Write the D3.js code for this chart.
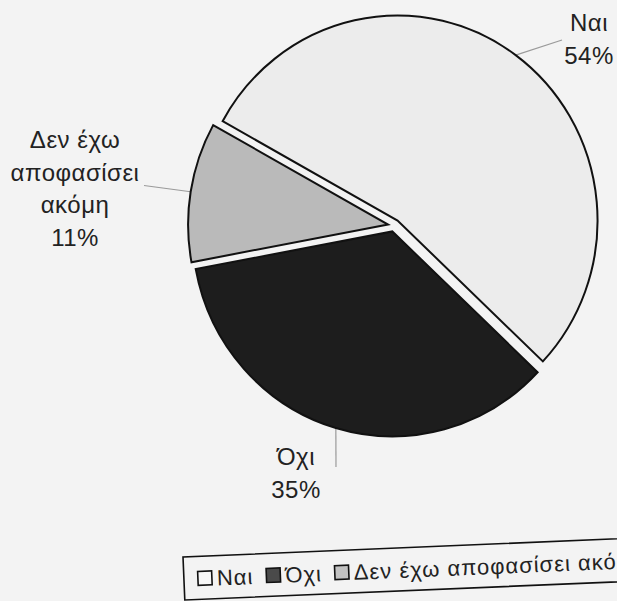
<!DOCTYPE html>
<html>
<head>
<meta charset="utf-8">
<script src="https://cdn.jsdelivr.net/npm/d3@7"></script>
<style>
  html, body { margin: 0; padding: 0; background: #f3f3f3; }
  svg { display: block; }
  text { font-family: "Liberation Sans", Arial, sans-serif; fill: #222; }
</style>
</head>
<body>
<svg id="chart" width="617" height="601"></svg>
<script>
// ---- data ----
const categories = ["Ναι", "Όχι", "Δεν έχω αποφασίσει ακόμη"];
const values = [54, 35, 11];
const labelLines = [["Ναι"], ["Όχι"], ["Δεν έχω", "αποφασίσει", "ακόμη"]];
const sliceFills = ["#ececec", "#1d1d1d", "#bababa"];
const legendFills = ["#f6f6f6", "#4a4a4a", "#c2c2c2"];

// ---- layout ----
const W = 617, H = 601;
const cx = 394, cy = 225.5, R = 200, sy = 1.025;
const explode = [6, 6, 6];
const startDeg = -61;
// leader end points and label anchors (relative to pie centre)
const leaderEnd = [[168, -185.5], [-58, 241.5], [-250, -40]];
const labelAnchor = [[195, -194.5], [-98, 239.5], [-319, -77.5]];
const labelFont = 24, lineH = 32.5;

const svg = d3.select("#chart");
svg.append("rect").attr("width", W).attr("height", H).attr("fill", "#f3f3f3");

const pie = d3.pie().sort(null).value(d => d)
  .startAngle(startDeg * Math.PI / 180)
  .endAngle((startDeg + 360) * Math.PI / 180);
const arcs = pie(values);
const arc = d3.arc().innerRadius(0).outerRadius(R);

const root = svg.append("g").attr("transform", `translate(${cx},${cy})`);

arcs.forEach((a, i) => {
  const m = (a.startAngle + a.endAngle) / 2;
  a.dx = explode[i] * Math.sin(m);
  a.dy = -explode[i] * Math.cos(m);
  a.mid = m;
});

// leader lines (under slices)
root.selectAll("line.leader").data(arcs).join("line")
  .attr("class", "leader")
  .attr("x1", d => R * Math.sin(d.mid) + d.dx)
  .attr("y1", d => (-R * Math.cos(d.mid) + d.dy) * sy)
  .attr("x2", (d, i) => leaderEnd[i][0])
  .attr("y2", (d, i) => leaderEnd[i][1])
  .attr("stroke", "#9a9a9a").attr("stroke-width", 1.2);

const pieG = root.append("g").attr("transform", `scale(1,${sy})`);
pieG.selectAll("path.slice").data(arcs).join("path")
  .attr("class", "slice")
  .attr("d", arc)
  .attr("transform", d => `translate(${d.dx},${d.dy})`)
  .attr("fill", (d, i) => sliceFills[i])
  .attr("stroke", "#111")
  .attr("stroke-width", 2)
  .attr("stroke-linejoin", "miter")
  .attr("vector-effect", "non-scaling-stroke");

// labels
arcs.forEach((a, i) => {
  const lines = labelLines[i].concat([values[i] + "%"]);
  const t = root.append("text")
    .attr("text-anchor", "middle")
    .attr("font-size", labelFont)
    .attr("letter-spacing", 0.5)
    .attr("x", labelAnchor[i][0])
    .attr("y", labelAnchor[i][1]);
  lines.forEach((s, k) => {
    t.append("tspan").attr("x", labelAnchor[i][0]).attr("dy", k === 0 ? 0 : lineH).text(s);
  });
});

// legend (scan is slightly rotated)
const lg = svg.append("g").attr("transform", "translate(183,557) rotate(-2.4)");
lg.append("rect").attr("x", 0).attr("y", 0).attr("width", 500).attr("height", 43)
  .attr("fill", "none").attr("stroke", "#111").attr("stroke-width", 1.6);
let x = 14;
categories.forEach((c, i) => {
  lg.append("rect").attr("x", x).attr("y", 15).attr("width", 14).attr("height", 14)
    .attr("fill", legendFills[i]).attr("stroke", "#111").attr("stroke-width", 1.6);
  const t = lg.append("text").attr("x", x + 19).attr("y", 30)
    .attr("font-size", 22).attr("letter-spacing", 1).text(c);
  x += 19 + t.node().getComputedTextLength() + 13;
});
</script>
</body>
</html>
